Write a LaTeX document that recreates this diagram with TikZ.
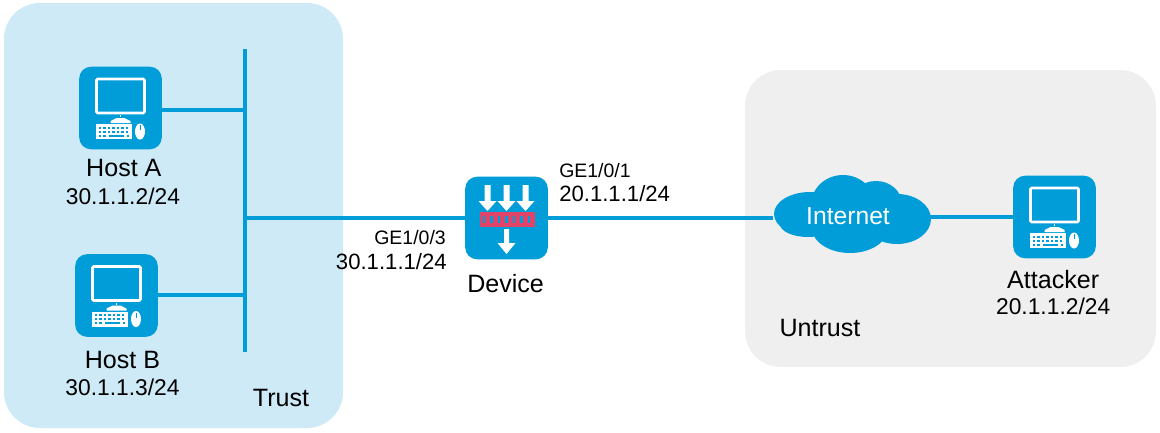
\documentclass[tikz,border=0pt]{standalone}
\usepackage{fontspec}
\setmainfont{Liberation Sans}
\usetikzlibrary{arrows,positioning}
\definecolor{netblue}{HTML}{009DD9}
\definecolor{trustbg}{HTML}{CDEAF6}
\definecolor{untrustbg}{HTML}{EFEFEF}
\definecolor{wallred}{HTML}{E04468}
\tikzset{
    %Define style for icon boxes
    iconbox/.style={
           rectangle,
           rounded corners=9pt,
           fill=netblue,
           minimum width=62pt,
           minimum height=62pt,
           inner sep=0pt},
    %Define style for zones
    zone/.style={
           rectangle,
           rounded corners=27pt,
           inner sep=0pt},
    %Define style for labels
    namelabel/.style={
           inner sep=0pt,
           font=\fontsize{18.8}{21}\selectfont},
    iflabel/.style={
           inner sep=0pt,
           font=\fontsize{14.6}{18}\selectfont},
    iplabel/.style={
           inner sep=0pt,
           font=\fontsize{16.6}{21}\selectfont},
    hostip/.style={
           inner sep=0pt,
           font=\fontsize{17.1}{21}\selectfont},
    %Define line style
    link/.style={
           draw=netblue,
           line width=2.3pt},
    %Host icon, drawn on top of an iconbox
    hosticon/.pic={
      \draw[white,line width=1.9pt,rounded corners=.8pt] (-24,-29) rectangle (24,5);
      \fill[white] (-1,7) rectangle (0,9);
      \fill[white] (-4,10) -- (4,10) -- (10,13) -- (10,15) -- (-10,15) -- (-10,13) -- cycle;
      \fill[white] (-24.5,16) rectangle (11.5,31);
      \foreach \y in {18.5,22.5}
        \foreach \x in {-22,-17.5,...,7}
          \fill[netblue] (\x,\y) rectangle +(2.6,2.4);
      \foreach \x in {-22,-17.5,6}
        \fill[netblue] (\x,26.5) rectangle +(2.6,2.4);
      \fill[netblue] (-12,26.5) rectangle (3.5,28.9);
      \fill[white] (19.5,23.5) ellipse (5 and 8);
      \draw[netblue,line width=.6pt] (19.5,17) -- (19.5,22);
    },
    %Firewall icon, drawn on top of an iconbox
    wallicon/.pic={
      \foreach \x in {-19,0,19}
        \fill[white] (\x-3,-33) -- (\x+3,-33) -- (\x+3,-17) -- (\x+9,-17) -- (\x,-7)
           -- (\x-9,-17) -- (\x-3,-17) -- cycle;
      \fill[wallred] (-27,-6) rectangle (28,9);
      \foreach \x in {-24,-16.5,...,22}
        \fill[netblue] (\x,-2) rectangle +(2.8,7);
      \fill[white] (-2.5,11) -- (2.5,11) -- (2.5,25) -- (9,25) -- (0,36) -- (-9,25) -- (-2.5,25) -- cycle;
    }
}
\begin{document}
\begin{tikzpicture}[x=.75pt,y=-.75pt]
\useasboundingbox (0,0) rectangle (1160,432);
 %zones
\node[zone,fill=trustbg,minimum width=254.25pt,minimum height=318.75pt] (trust) at (173.5,215.5) {};
\node[zone,fill=untrustbg,minimum width=308.25pt,minimum height=222.75pt] (untrust) at (950.5,218.5) {};
 %cloud
\fill[netblue] (810,214) ellipse (36 and 22) (843,205) ellipse (32 and 30) (876,204) ellipse (26 and 23)
   (897,219) ellipse (34 and 25) (850,228) ellipse (38 and 25) (808,224) ellipse (28 and 13);
 %nodes
\node[iconbox] (hosta) at (120.5,108) {};
\node[iconbox] (hostb) at (116.5,295.5) {};
\node[iconbox] (attacker) at (1054.5,217) {};
\node[iconbox] (device) at (506.5,218) {};
\node[inner sep=0pt,minimum width=112pt,text=white,font=\fontsize{18.5}{20}\selectfont] (internet) at (848,216) {Internet};
\pic at (hosta) {hosticon};
\pic at (hostb) {hosticon};
\pic at (attacker) {hosticon};
\pic at (device) {wallicon};
 %bus
\coordinate (bustop) at (245,49);
\coordinate (busbot) at (245,352);
\coordinate (busa) at (245,110);
\coordinate (busb) at (245,295);
\coordinate (busd) at (245,218);
 %links
\draw[link] (bustop) -- (busbot);
\draw[link] (busa) -- (hosta.east |- busa);
\draw[link] (busb) -- (hostb.east |- busb);
\draw[link] (busd) -- (device.west);
\draw[link] (device.east) -- (device.east -| internet.west);
\draw[link] (attacker.west) -- (attacker.west -| internet.east);
 %labels
\node[namelabel,below=7.3pt of hosta,xshift=2.5pt] (hostaname) {Host A};
\node[hostip,below=8pt of hostaname,xshift=-.7pt] (hostaip) {30.1.1.2/24};
\node[namelabel,below=10.7pt of hostb,xshift=4.5pt] (hostbname) {Host B};
\node[hostip,below=6.7pt of hostbname] (hostbip) {30.1.1.3/24};
\node[namelabel,below=8.8pt of attacker,xshift=-1pt] (attackername) {Attacker};
\node[hostip,below=6.7pt of attackername] (attackerip) {20.1.1.2/24};
\node[namelabel,below=10.8pt of device,xshift=-.7pt] (devicename) {Device};
\node[iflabel,anchor=east] (ifc) at (446,238) {GE1/0/3};
\node[iplabel,anchor=east] (ipc) at (447,262) {30.1.1.1/24};
\node[iflabel,anchor=west] (ifa) at (559,171) {GE1/0/1};
\node[iplabel,anchor=west] (ipa) at (559,194) {20.1.1.1/24};
\node[namelabel] (trustname) at (281,398) {Trust};
\node[namelabel] (untrustname) at (820,328) {Untrust};
\end{tikzpicture}
\end{document}
